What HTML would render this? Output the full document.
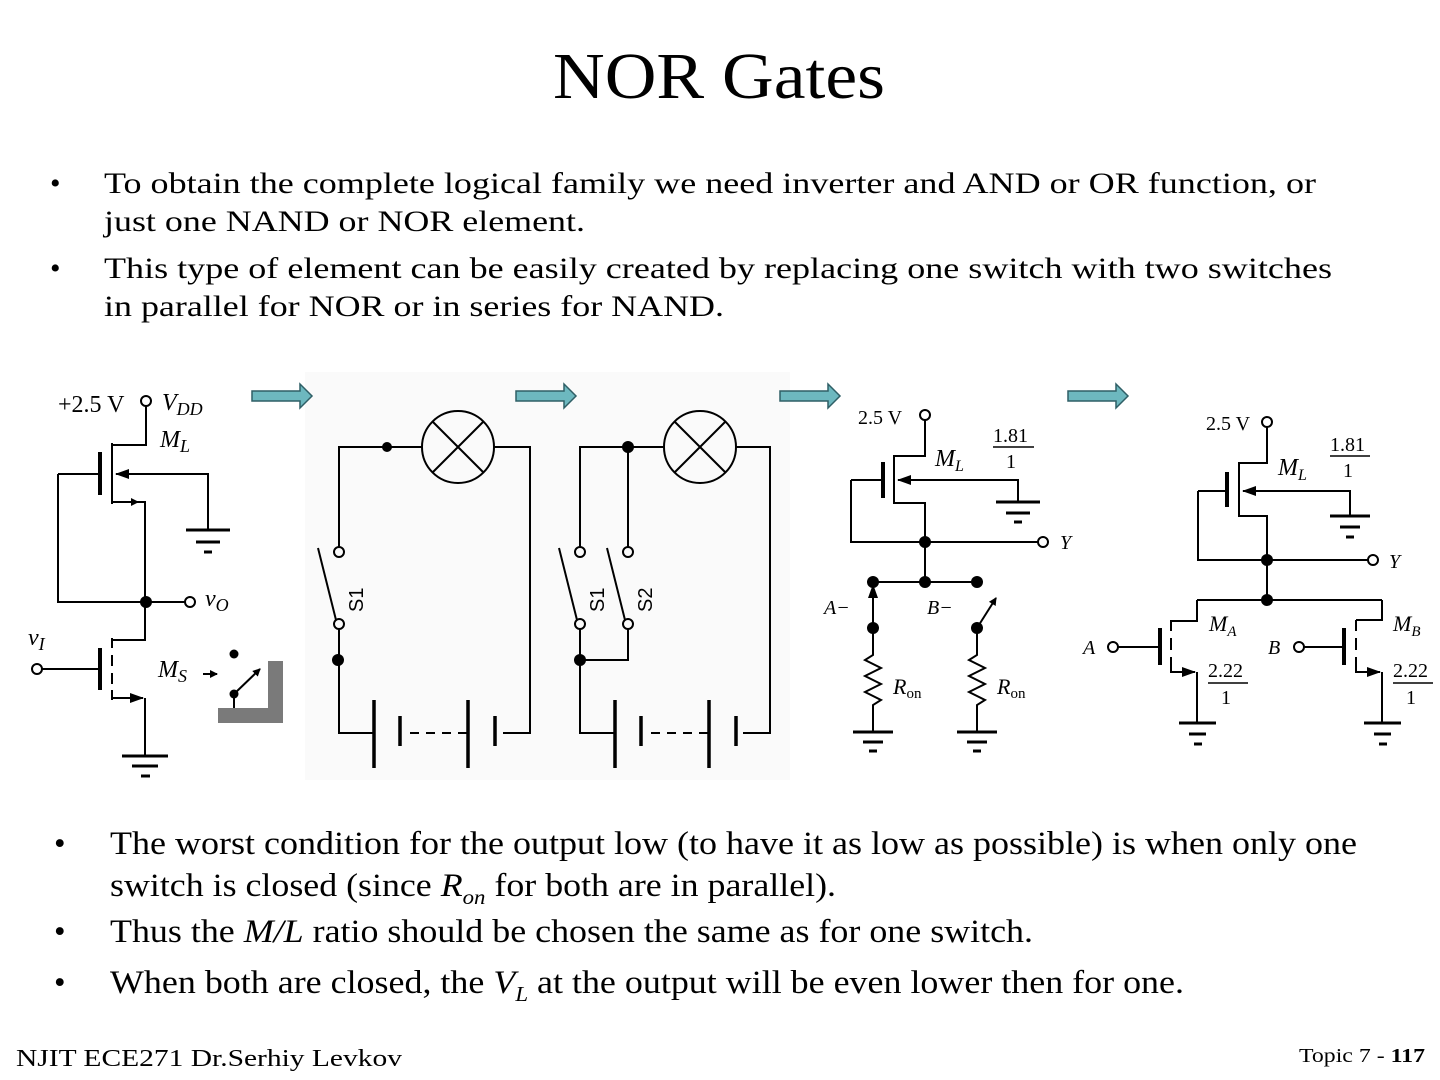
<!DOCTYPE html>
<html><head><meta charset="utf-8"><style>
html,body{margin:0;padding:0;background:#fff;}
svg{display:block;}
text{font-family:"Liberation Serif",serif;fill:#000;}
</style></head><body>
<svg width="1440" height="1080" viewBox="0 0 1440 1080" xmlns="http://www.w3.org/2000/svg">
<defs>
<marker id="ah" markerWidth="8" markerHeight="8" refX="7" refY="4" orient="auto" markerUnits="userSpaceOnUse"><path d="M0,0 L8,4 L0,8 z" fill="#000"/></marker>
<marker id="ah2" markerWidth="14" markerHeight="10" refX="13" refY="5" orient="auto" markerUnits="userSpaceOnUse"><path d="M0,0 L14,5 L0,10 z" fill="#000"/></marker>
</defs>
<rect x="305" y="372" width="485" height="408" fill="#fafafa"/>
<text x="553" y="98" font-size="66" textLength="332" lengthAdjust="spacingAndGlyphs">NOR Gates</text>
<g font-size="30">
<text x="50" y="193">•</text>
<text x="104" y="193" textLength="1212" lengthAdjust="spacingAndGlyphs">To obtain the complete logical family we need inverter and AND or OR function, or</text>
<text x="104" y="231" textLength="481" lengthAdjust="spacingAndGlyphs">just one NAND or NOR element.</text>
<text x="50" y="278">•</text>
<text x="104" y="278" textLength="1228" lengthAdjust="spacingAndGlyphs">This type of element can be easily created by replacing one switch with two switches</text>
<text x="104" y="316" textLength="620" lengthAdjust="spacingAndGlyphs">in parallel for NOR or in series for NAND.</text>
</g>
<g font-size="33">
<text x="54" y="854">•</text>
<text x="110" y="854" textLength="1247" lengthAdjust="spacingAndGlyphs">The worst condition for the output low (to have it as low as possible) is when only one</text>
<text x="110" y="896" textLength="726" lengthAdjust="spacingAndGlyphs">switch is closed (since <tspan font-style="italic">R</tspan><tspan font-style="italic" font-size="21" dy="8">on</tspan><tspan dy="-8"> for both are in parallel).</tspan></text>
<text x="54" y="942">•</text>
<text x="110" y="942" textLength="923" lengthAdjust="spacingAndGlyphs">Thus the <tspan font-style="italic">M/L</tspan> ratio should be chosen the same as for one switch.</text>
<text x="54" y="993">•</text>
<text x="110" y="993" textLength="1074" lengthAdjust="spacingAndGlyphs">When both are closed, the <tspan font-style="italic">V</tspan><tspan font-style="italic" font-size="21" dy="8">L</tspan><tspan dy="-8"> at the output will be even lower then for one.</tspan></text>
</g>
<text x="16" y="1066" font-size="24" textLength="386" lengthAdjust="spacingAndGlyphs">NJIT  ECE271   Dr.Serhiy Levkov</text>
<text x="1299" y="1062" font-size="20" textLength="126" lengthAdjust="spacingAndGlyphs">Topic 7 - <tspan font-weight="bold">117</tspan></text>

<!-- arrows -->
<g fill="#6db8bf" stroke="#2f5f66" stroke-width="1.5">
<path d="M252,391 H300 V384 L312,396 L300,408 V401 H252 z"/>
<path d="M516,391 H564 V384 L576,396 L564,408 V401 H516 z"/>
<path d="M780,391 H828 V384 L840,396 L828,408 V401 H780 z"/>
<path d="M1068,391 H1116 V384 L1128,396 L1116,408 V401 H1068 z"/>
</g>

<g stroke="#000" stroke-width="2" fill="none">
<!-- circuit 1 -->
<circle cx="146" cy="401" r="5"/>
<path d="M146,406 V445 H112 M112,443 V504 M112,502 H145 V602 M58,474 H100 M58,474 V602 H145 M145,602 H185"/>
<path d="M100,452 V495" stroke-width="4"/>
<path d="M112,502 H138" marker-end="url(#ah)" stroke-width="1"/>
<path d="M208,530 V474 H116" marker-end="url(#ah2)"/>
<circle cx="190" cy="602" r="5"/>
<path d="M145,602 V640 H112 M112,638 V648 M112,655 V666 M112,673 V684 M112,690 V700 M145,698 V756 M42,669 H100" />
<path d="M100,648 V690" stroke-width="4"/>
<path d="M112,698 H143" marker-end="url(#ah2)"/>
<circle cx="37" cy="669" r="5"/>
<path d="M122,756 H168 M132,766 H158" stroke-width="3"/>
<path d="M141,776 H150" stroke-width="3"/>
<path d="M186,530 H230 M196,542 H220" stroke-width="3"/><path d="M204,552 H212" stroke-width="3"/>
<path d="M234,694 L260,669" marker-end="url(#ah)"/>
<path d="M203,674 H217" marker-end="url(#ah)"/>
<path d="M234,694 V708"/>
</g>
<circle cx="234" cy="654" r="4.5"/><circle cx="234" cy="694" r="4.5"/>
<circle cx="146" cy="602" r="6"/>
<path d="M268,661 H283 V723 H218 V708 H268 z" fill="#7a7a7a"/>
<g font-size="24" font-style="italic">
<text x="58" y="412" font-style="normal">+2.5 V</text>
<text x="162" y="410">V<tspan font-size="18" dy="5">DD</tspan></text>
<text x="160" y="447">M<tspan font-size="18" dy="5">L</tspan></text>
<text x="205" y="606">v<tspan font-size="18" dy="5">O</tspan></text>
<text x="28" y="645">v<tspan font-size="18" dy="5">I</tspan></text>
<text x="158" y="677">M<tspan font-size="18" dy="5">S</tspan></text>
</g>

<!-- circuit 2 -->
<g stroke="#000" stroke-width="2" fill="none">
<path d="M339,548 V447 H422 M494,447 H530 V733 H503 M339,629 V733 H374"/>
<circle cx="458" cy="447" r="36"/>
<path d="M433,422 L483,472 M483,422 L433,472"/>
<circle cx="339" cy="552" r="5"/><circle cx="339" cy="624" r="5"/>
<path d="M336,620 L318,548"/>
<path d="M374,700 V768 M468,700 V768" stroke-width="3.5"/>
<path d="M400,716 V746 M495,716 V746" stroke-width="3.5"/>
<path d="M410,733 H468" stroke-dasharray="9,7"/>
<!-- circuit 3 -->
<path d="M580,548 V447 H663 M735,447 H770 V733 H743 M580,629 V733 H615 M628,447 V547 M628,629 V660 H580"/>
<circle cx="700" cy="447" r="36"/>
<path d="M675,422 L725,472 M725,422 L675,472"/>
<circle cx="580" cy="552" r="5"/><circle cx="580" cy="624" r="5"/>
<circle cx="628" cy="552" r="5"/><circle cx="628" cy="624" r="5"/>
<path d="M577,620 L559,548 M625,620 L607,548"/>
<path d="M615,700 V768 M709,700 V768" stroke-width="3.5"/>
<path d="M641,716 V746 M736,716 V746" stroke-width="3.5"/>
<path d="M651,733 H709" stroke-dasharray="9,7"/>
</g>
<circle cx="387" cy="447" r="5"/><circle cx="338" cy="660" r="6"/>
<circle cx="628" cy="447" r="6"/><circle cx="580" cy="660" r="6"/>
<g font-size="20">
<text transform="translate(363,612) rotate(-90)" style="font-family:'Liberation Sans',sans-serif">S1</text>
<text transform="translate(604,612) rotate(-90)" style="font-family:'Liberation Sans',sans-serif">S1</text>
<text transform="translate(652,612) rotate(-90)" style="font-family:'Liberation Sans',sans-serif">S2</text>
</g>

<!-- circuit 4 -->
<g stroke="#000" stroke-width="2" fill="none">
<circle cx="925" cy="415" r="5"/>
<path d="M925,420 V456 H894 M894,455 V504 M894,503 H925 V582 M851,480 H883 M851,480 V542 H925 M925,542 H1038 M873,582 H977"/>
<path d="M883,462 V498" stroke-width="4"/>
<path d="M1018,502 V480 H898" marker-end="url(#ah2)"/>
<circle cx="1043" cy="542" r="5"/>
<path d="M873,628 V655 L865,660 L881,668 L865,676 L881,684 L865,692 L881,700 L873,705 V732"/>
<path d="M977,628 V655 L969,660 L985,668 L969,676 L985,684 L969,692 L985,700 L977,705 V732"/>
<path d="M873,628 V585" marker-end="url(#ah2)"/>
<path d="M977,628 L996,598" marker-end="url(#ah)"/>
<path d="M853,732 H893 M863,742 H883 M957,732 H997 M967,742 H987" stroke-width="3"/>
<path d="M869,751 H877 M973,751 H981" stroke-width="3"/>
<path d="M996,502 H1040 M1006,513 H1030 M1014,522 H1022" stroke-width="3"/>
</g>
<circle cx="925" cy="542" r="6"/><circle cx="873" cy="582" r="6"/><circle cx="925" cy="582" r="6"/><circle cx="977" cy="582" r="6"/>
<circle cx="873" cy="628" r="6"/><circle cx="977" cy="628" r="6"/>
<g font-size="20">
<text x="858" y="424">2.5 V</text>
<text x="935" y="466" font-style="italic" font-size="24">M<tspan font-size="16" dy="5">L</tspan></text>
<text x="993" y="442">1.81</text><path d="M993,447 H1034" stroke="#000" stroke-width="1.5"/><text x="1006" y="468">1</text>
<text x="1060" y="549" font-style="italic">Y</text>
<text x="824" y="614" font-style="italic">A−</text>
<text x="927" y="614" font-style="italic">B−</text>
<text x="893" y="694" font-style="italic" font-size="22">R<tspan font-style="normal" font-size="15" dy="4">on</tspan></text>
<text x="997" y="694" font-style="italic" font-size="22">R<tspan font-style="normal" font-size="15" dy="4">on</tspan></text>
</g>

<!-- circuit 5 -->
<g stroke="#000" stroke-width="2" fill="none">
<circle cx="1267" cy="422" r="5"/>
<path d="M1267,427 V463 H1239 M1239,462 V517 M1239,516 H1267 V600 M1198,491 H1227 M1198,491 V560 H1267 M1267,560 H1368 M1197,600 H1382 M1197,600 V621 H1171 M1382,600 V620 H1356"/>
<path d="M1350,516 V491 H1243" marker-end="url(#ah2)"/>
<circle cx="1373" cy="560" r="5"/>
<path d="M1171,620 V631 M1171,638 V650 M1171,657 V667 M1171,663 V673 M1356,620 V631 M1356,638 V650 M1356,657 V673"/>
<path d="M1197,672 V723 M1382,672 V723"/>
<path d="M1171,672 H1195" marker-end="url(#ah2)"/>
<path d="M1356,672 H1380" marker-end="url(#ah2)"/>
<path d="M1118,647 H1160 M1304,647 H1344"/>
<circle cx="1113" cy="647" r="5"/><circle cx="1299" cy="647" r="5"/>
<path d="M1227,472 V507 M1160,628 V665 M1344,628 V665" stroke-width="4"/>
<path d="M1330,516 H1370 M1340,527 H1360 M1179,723 H1216 M1189,734 H1206 M1364,723 H1401 M1374,734 H1391" stroke-width="3"/>
<path d="M1346,537 H1354 M1194,744 H1202 M1379,744 H1387" stroke-width="3"/>
</g>
<circle cx="1267" cy="560" r="6"/><circle cx="1267" cy="600" r="6"/>
<g font-size="20">
<text x="1206" y="430">2.5 V</text>
<text x="1278" y="475" font-style="italic" font-size="24">M<tspan font-size="16" dy="5">L</tspan></text>
<text x="1330" y="451">1.81</text><path d="M1330,456 H1370" stroke="#000" stroke-width="1.5"/><text x="1343" y="477">1</text>
<text x="1389" y="568" font-style="italic">Y</text>
<text x="1209" y="631" font-style="italic" font-size="22">M<tspan font-size="15" dy="5">A</tspan></text>
<text x="1393" y="631" font-style="italic" font-size="22">M<tspan font-size="15" dy="5">B</tspan></text>
<text x="1083" y="654" font-style="italic">A</text>
<text x="1268" y="654" font-style="italic">B</text>
<text x="1208" y="677">2.22</text><path d="M1208,683 H1248" stroke="#000" stroke-width="1.5"/><text x="1221" y="704">1</text>
<text x="1393" y="677">2.22</text><path d="M1393,683 H1433" stroke="#000" stroke-width="1.5"/><text x="1406" y="704">1</text>
</g>
</svg>
</body></html>
